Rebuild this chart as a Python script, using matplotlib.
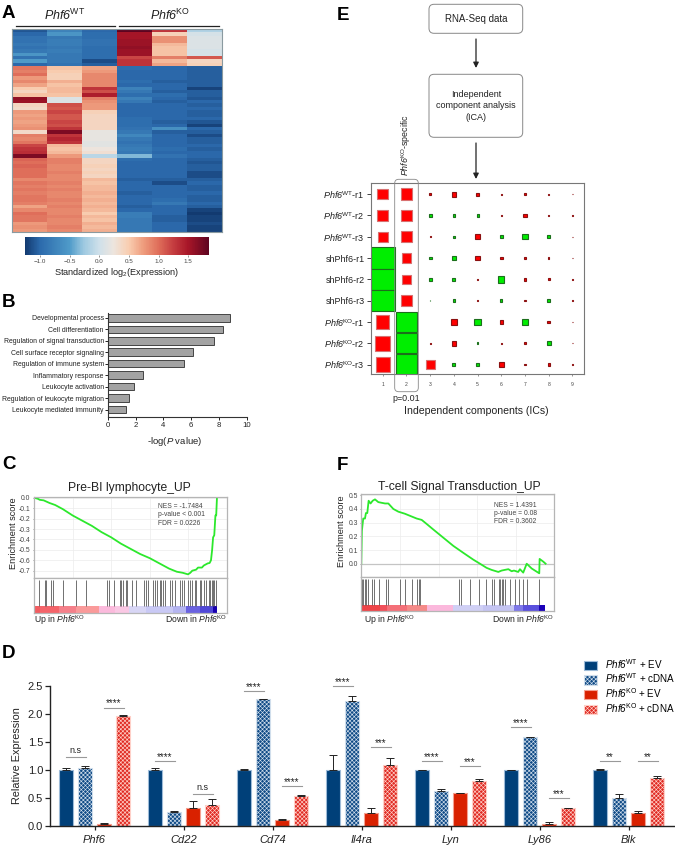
"""Multi panel figure: Phf6 heatmap, GO bars, ICA squares, GSEA curves, qPCR bars."""
import numpy as np
import matplotlib
matplotlib.use("Agg")
import matplotlib.pyplot as plt
from matplotlib.cm import ScalarMappable
from matplotlib.colors import LinearSegmentedColormap, Normalize
from matplotlib.patches import FancyBboxPatch, Patch, Rectangle

plt.rcParams["font.family"] = ["Liberation Sans", "DejaVu Sans"]
plt.rcParams["mathtext.fontset"] = "custom"
plt.rcParams["mathtext.rm"] = "Liberation Sans"
plt.rcParams["mathtext.it"] = "Liberation Sans:italic"
plt.rcParams["mathtext.sf"] = "Liberation Sans:italic"  # \mathit keeps digits upright, sf does not
plt.rcParams["hatch.linewidth"] = 0.45

W, H = 675, 846
WT = r"$\mathsf{Phf6}^{\mathrm{WT}}$"
KO = r"$\mathsf{Phf6}^{\mathrm{KO}}$"
TXT = "#222222"

# A: heatmap, top block then bottom block, one list per column
hm_wt1 = [-1.1, -1.0, -.9, -.9, -.85, -.9, -.85, -.55, -.9, -.5, -1.0,
          .95, .9, 1.0, .75, .85, .7, .5, .4, .55, 1.6, 1.55, .4, .35, .75, .7, .75, .7, .75, .8, .35, .9, .85, .95,
          1.2, 1.3, 1.35, 1.7, 1.05, 1.0, 1.05, 1.0, 1.0, 1.0, .85, .95, .9, .95, .9, .95, .95, .9, .7, .85, 1.0, .95, .95, .75, .8, .75]
hm_wt2 = [-.75, -.55, -.85, -.8, -.8, -.85, -.8, -.85, -.85, -.85, -.9,
          .55, .5, .45, .45, .65, .55, .6, .6, .55, .1, .1, 1.15, 1.1, 1.2, 1.1, 1.1, 1.2, 1.15, 1.3, 1.7, 1.3, 1.4, 1.3,
          .6, .55, .6, .75, .9, .9, .85, .85, .9, .85, .85, .9, .85, .9, .85, .85, .9, .85, .9, .85, .85, .9, .85, .85, .9, .85]
hm_wt3 = [-1.0, -.95, -.95, -.9, -.9, -.95, -.95, -.95, -.95, -1.15, -1.05,
          .7, .75, .85, .85, .85, .85, 1.3, 1.15, 1.45, .9, .8, .75, .75, .45, .4, .4, .4, .4, .4, .2, .2, .2, .15,
          .15, .25, .3, -.1, .4, .4, .45, .4, .45, .4, .6, .55, .6, .6, .65, .6, .65, .6, .65, .6, .5, .6, .55, .65, .6, .65]
hm_ko1 = [1.85, 1.5, 1.5, 1.55, 1.55, 1.6, 1.55, 1.55, 1.2, 1.3, 1.3,
          -.95, -1.0, -1.0, -1.0, -.95, -1.0, -.75, -.85, -.95, -.75, -.85, -1.0, -1.0, -1.0, -1.0, -.95, -.95, -.95, -.9, -.85, -.7, -.85, -.9,
          -.85, -.8, -.85, -.35, -.95, -1.0, -1.0, -1.0, -1.0, -1.0, -1.05, -1.0, -1.0, -1.0, -1.05, -1.0, -1.0, -1.0, -1.05, -1.0, -.8, -.8, -.85, -.85, -.85, -.85]
hm_ko2 = [1.3, .45, .8, .8, .6, .55, .55, .55, .9, .6, .7,
          -1.0, -1.0, -1.0, -1.0, -1.05, -1.0, -1.0, -1.05, -.95, -1.0, -1.05, -1.0, -1.0, -1.0, -1.0, -1.0, -1.05, -1.0, -.6, -1.05, -1.0, -1.0, -1.0,
          -1.0, -.95, -1.0, -.9, -1.0, -1.0, -1.0, -1.0, -1.0, -1.0, -1.05, -1.15, -1.0, -1.0, -1.0, -1.0, -.95, -.85, -1.0, -1.0, -1.0, -1.05, -1.05, -1.0, -1.0, -1.0]
hm_ko3 = [-.15, .05, .1, .1, .1, .1, .05, .05, 1.1, .4, .45,
          -1.05, -1.05, -1.05, -1.05, -1.05, -1.05, -1.2, -1.05, -1.05, -1.1, -1.0, -1.05, -1.0, -1.05, -1.05, -1.0, -1.1, -1.2, -1.0, -1.05, -1.15, -1.05, -1.05,
          -1.0, -1.05, -1.0, -1.0, -1.05, -1.1, -1.05, -1.05, -1.15, -1.15, -1.05, -1.0, -1.05, -1.05, -1.0, -1.05, -1.05, -1.0, -1.05, -1.2, -1.25, -1.2, -1.2, -1.15, -1.2, -1.2]
cb_stops = [-1.25, -1, -.5, -.27, 0, .24, .5, .75, 1, 1.25, 1.5, 1.85]
cb_colors = ["#123a70", "#2c6aac", "#4f9bc9", "#9cc8e0", "#cfe0ea", "#ede5de", "#f9cdb0", "#ee9b7c", "#df6e5a",
             "#c53d40", "#a81628", "#5e0420"]

# B: GO terms
go_terms = ["Developmental process", "Cell differentiation", "Regulation of signal transduction",
            "Cell surface receptor signaling", "Regulation of immune system", "Inflammatory response",
            "Leukocyte activation", "Regulation of leukocyte migration", "Leukocyte mediated immunity"]
go_values = [8.8, 8.3, 7.65, 6.15, 5.45, 2.5, 1.85, 1.55, 1.3]

# E: signed IC weights, red is positive, green negative
ic_samples = [WT + "-r1", WT + "-r2", WT + "-r3", "shPhf6-r1", "shPhf6-r2", "shPhf6-r3",
              KO + "-r1", KO + "-r2", KO + "-r3"]
ic_weights = [[.45, .5, .07, .2, .14, .03, .07, .04, .015],
              [.45, .5, -.14, -.11, -.09, .02, .13, .06, .015],
              [.41, .46, .05, -.1, .2, -.13, -.22, -.13, .015],
              [-1, .41, -.12, -.14, .2, .12, .06, .05, .015],
              [-1, .4, -.12, -.12, .07, -.27, .12, .09, .015],
              [-1, .44, -.02, -.11, .03, -.1, .06, -.15, .015],
              [.56, -.85, -.015, .25, -.28, .14, -.26, .12, .015],
              [.62, -.85, .04, .2, -.07, .04, .07, -.18, .015],
              [.6, -.85, .37, -.12, -.13, .2, .05, .1, .015]]

# C: GSEA curve, rank in % of the axis
c_rank = [0, 2, 3, 5, 8, 11, 15, 20, 25, 30, 35, 40, 45, 50, 55, 60, 65, 70, 74, 77, 79.8, 81, 82, 84, 85, 87, 88, 90,
          91, 91.7, 92.3, 92.8, 93.4, 94, 94.4, 94.8]
c_es = [0, -.01, -.02, -.025, -.05, -.07, -.11, -.17, -.22, -.27, -.33, -.38, -.44, -.49, -.54, -.58, -.63, -.68,
        -.71, -.72, -.735, -.72, -.70, -.69, -.67, -.67, -.65, -.63, -.626, -.6, -.5, -.38, -.36, -.17, -.17, 0]
c_hits = [2.8, 5.5, 6, 8.8, 10, 15.2, 21.9, 27.2, 37.9, 39, 41.6, 44.5, 45.3, 46.2, 47.6, 48.3, 51, 53.1, 57.1, 57.9,
          59.1, 61.7, 62.6, 63.8, 65.2, 66, 66.9, 67.8, 70.3, 71.6, 72.9, 75.5, 76.6, 77.6, 79.8, 80.7, 81.9, 83.3,
          84.1, 85.9, 86.7, 87.9, 89, 90.7, 91.4, 92.1, 92.8, 93.3, 94.5]
c_seg_edges = [0, 3, 13, 22, 33.6, 42, 49, 58, 72, 79, 86, 93, 94.8]
c_seg_colors = ["#f25c60", "#f4646a", "#f5808a", "#fa9a9a", "#fbbadc", "#fac8e4", "#d8d6f5", "#c9c9f5", "#b5b5f0",
                "#6a62e0", "#5048d8", "#1800b0"]

# F: GSEA curve
f_rank = [0, .3, 1, 1.9, 2.4, 3.1, 3.8, 4.8, 5.9, 7.1, 8.8, 10.5, 12.3, 14, 16.6, 19.2, 22.6, 25.2, 28.7, 31.3, 33.9,
          37.3, 42.5, 47.7, 52.8, 58, 61.5, 64.9, 67.5, 71, 72.7, 74.4, 76.2, 77.9, 79.1, 81.3, 82.2, 83.9, 85.7,
          88.3, 92.2, 92.4, 94.3, 95.5]
f_es = [0, .24, .33, .33, .37, .37, .46, .44, .46, .47, .45, .445, .44, .44, .40, .38, .365, .35, .33, .32, .29, .25,
        .19, .13, .08, .03, 0, -.03, -.045, -.06, -.05, -.045, -.04, -.055, -.05, -.06, -.04, -.065, 0, -.035, -.07,
        .035, .015, 0]
f_hits = [.2, 1, 1.9, 2.4, 3.3, 5.7, 6.5, 9.3, 12.8, 13.8, 20.3, 22.8, 26.1, 29, 29.9, 30.6, 50.6, 51.5, 56.3, 60.8,
          64.8, 67.9, 68.9, 71.4, 72, 72.7, 73.6, 74.3, 77, 79.6, 81.7, 83.9, 85.7, 92.2]
f_seg_edges = [0, 9.7, 13.1, 23.5, 33.9, 47.7, 63.2, 79, 83.9, 92.2, 95.1]
f_seg_colors = ["#ee4448", "#f0505a", "#f47078", "#f58a88", "#fbb8dc", "#d0d0f5", "#c5c5f2", "#7e78e8", "#5a50dd", "#1a00b8"]

# D: qPCR
genes = ["Phf6", "Cd22", "Cd74", "Il4ra", "Lyn", "Ly86", "Blk"]
wt_ev = [1.0, 1.0, 1.0, 1.0, 1.0, 1.0, 1.0]
wt_cdna = [1.04, .24, 2.27, 2.23, .62, 1.59, .5]
ko_ev = [.03, .32, .11, .22, .58, .03, .22]
ko_cdna = [1.96, .38, .54, 1.08, .80, .32, .85]
wt_ev_err = [.03, .04, .01, .27, .005, .005, .025]
wt_cdna_err = [.03, .02, .01, .1, .04, .005, .07]
ko_ev_err = [.02, .12, .01, .09, .01, .03, .05]
ko_cdna_err = [.02, .09, .01, .14, .03, .005, .05]
# gene index, first bar of the pair, level, label
sig_gene = [0, 0, 1, 1, 2, 2, 3, 3, 4, 4, 5, 5, 6, 6]
sig_first = [0, 2, 0, 2, 0, 2, 0, 2, 0, 2, 0, 2, 0, 2]
sig_level = [1.227, 2.116, 1.155, .563, 2.41, .712, 2.505, 1.406, 1.155, 1.07, 1.77, .49, 1.155, 1.155]
sig_label = ["n.s", "****", "****", "n.s", "****", "****", "****", "***", "****", "***", "****", "***", "**", "**"]


def box(x0, y0, x1, y1):
    # pixel rectangle of the reference -> axes position
    return [x0 / W, 1 - y1 / H, (x1 - x0) / W, (y1 - y0) / H]


fig = plt.figure(figsize=(W / 100, H / 100), dpi=100)
page = fig.add_axes([0, 0, 1, 1], zorder=5)
page.set_xlim(0, W)
page.set_ylim(H, 0)
page.axis("off")

for letter, x, y in [("A", 2, 18), ("B", 2, 307), ("C", 2, 469), ("D", 2, 658), ("E", 337, 20), ("F", 337, 470)]:
    page.text(x, y, letter, fontsize=13.5, fontweight="bold", color="black", va="baseline")

# ---- A
hm_norm = Normalize(cb_stops[0], cb_stops[-1])
hm_cmap = LinearSegmentedColormap.from_list("hm", [(float(hm_norm(v)), c) for v, c in zip(cb_stops, cb_colors)])
ax = fig.add_axes(box(12, 29, 222, 232))
hm = np.array([hm_wt1, hm_wt2, hm_wt3, hm_ko1, hm_ko2, hm_ko3]).T
ax.imshow(hm, cmap=hm_cmap, norm=hm_norm, aspect="auto", interpolation="nearest")
ax.set_xticks([])
ax.set_yticks([])
for s in ax.spines.values():
    s.set_color("#8a9aa0")
    s.set_linewidth(0.8)
page.plot([15.7, 115], [26, 26], color="#222222", lw=0.9)
page.plot([119, 219], [26, 26], color="#222222", lw=0.9)
page.text(65, 20, WT, fontsize=9, ha="center", va="baseline", color=TXT)
page.text(170, 20, KO, fontsize=9, ha="center", va="baseline", color=TXT)

cax = fig.add_axes(box(25, 237, 209, 255))
cb = fig.colorbar(ScalarMappable(hm_norm, hm_cmap), cax=cax, orientation="horizontal")
cb.set_ticks([-1, -.5, 0, .5, 1, 1.5], labels=["\u22121.0", "\u22120.5", "0.0", "0.5", "1.0", "1.5"])
cax.tick_params(labelsize=4.5, length=1.5, width=0.4, pad=1.5, colors="#444444")
cb.outline.set_visible(False)
page.text(117, 275, r"Standardized log$_2$(Expression)", fontsize=6.6, ha="center", va="baseline", color=TXT)

# ---- B
ax = fig.add_axes(box(108, 313, 246.7, 416.7))
ypos = np.arange(len(go_terms))
ax.barh(ypos, go_values, height=0.66, color="#a3a3a3", edgecolor="#444444", linewidth=0.7)
ax.set_yticks(ypos, go_terms)
ax.set_ylim(8.62, -0.42)
ax.set_xlim(0, 10)
ax.set_xticks([0, 2, 4, 6, 8, 10])
ax.tick_params(axis="y", labelsize=4.95, length=2.5, width=0.7, pad=0.5, colors=TXT)
ax.tick_params(axis="x", labelsize=5.6, length=2.5, width=0.7, pad=1.5, colors=TXT)
for s in ["top", "right"]:
    ax.spines[s].set_visible(False)
for s in ["left", "bottom"]:
    ax.spines[s].set_linewidth(0.8)
    ax.spines[s].set_color("#333333")
page.text(175, 444, r"-log($\mathit{P}$ value)", fontsize=6.8, ha="center", va="baseline", color=TXT)

# ---- E
ax = fig.add_axes(box(370.7, 183.3, 584, 374.3))
ax.set_xlim(0.49, 9.49)
ax.set_ylim(9.46, 0.49)
ic_w = np.array(ic_weights)
for r in range(ic_w.shape[0]):
    for c in range(ic_w.shape[1]):
        v = ic_w[r, c]
        side = abs(v)
        high = min(side * 1.11, 1.0)
        fc = "#ff0000" if v > 0 else "#00ee00"
        ec = "#8a1010" if v > 0 else "#1c6e1c"
        if side > 0.3 and v > 0:
            ec = "#d87070"
        ax.add_patch(Rectangle((c + 1 - side / 2, r + 1 - high / 2), side, high, facecolor=fc, edgecolor=ec, linewidth=0.8))
ax.set_xticks(range(1, 10))
ax.set_yticks(range(1, 10), ic_samples)
ax.tick_params(axis="x", labelsize=3.6, length=1.5, width=0.4, pad=4, colors="#444444")
ax.tick_params(axis="y", labelsize=6.5, length=3, width=0.6, pad=1.5, colors=TXT)
for s in ax.spines.values():
    s.set_color("#777777")
    s.set_linewidth(0.8)
page.add_patch(FancyBboxPatch((394.7, 179.3), 23.6, 212.4, boxstyle="round,pad=0,rounding_size=4", fc="none", ec="#888888", lw=0.6))
page.text(406.5, 176, KO + "-specific", fontsize=6.4, rotation=90, ha="center", va="bottom", color=TXT)
page.text(406.7, 401, "p=0.01", fontsize=6.4, ha="center", va="baseline", color=TXT)
page.text(476, 414, "Independent components (ICs)", fontsize=7.6, ha="center", va="baseline", color=TXT)

# flow chart
page.add_patch(FancyBboxPatch((429, 4.3), 93.7, 29, boxstyle="round,pad=0,rounding_size=5", fc="white", ec="#888888", lw=0.7))
page.add_patch(FancyBboxPatch((429, 74.3), 93.7, 63, boxstyle="round,pad=0,rounding_size=5", fc="white", ec="#888888", lw=0.7))
page.text(476, 19.5, "RNA-Seq data", fontsize=7, ha="center", va="center", color=TXT)
page.text(476, 106, "Independent\ncomponent analysis\n(ICA)", fontsize=6.5, ha="center", va="center", color=TXT, linespacing=1.35)
for y0, y1 in [(39, 68), (143, 179)]:
    page.annotate("", xy=(476, y1), xytext=(476, y0), arrowprops=dict(arrowstyle="-|>", color="#222222", lw=0.9, mutation_scale=8, shrinkA=0, shrinkB=0))


# ---- C and F
def gsea(x0, x1, y_top, y_div, y_bot, es_lim, yticks, rank, es, hits, edges, colors):
    top = fig.add_axes(box(x0, y_top, x1, y_div))
    top.set_xlim(0, 100)
    top.set_ylim(*es_lim)
    top.set_xticks([20, 40, 60, 80], [])
    top.set_yticks(yticks)
    top.set_yticklabels([f"{t:.1f}" for t in yticks])
    top.grid(color="#ececec", lw=0.5)
    top.set_axisbelow(True)
    top.tick_params(axis="x", length=0)
    top.tick_params(axis="y", labelsize=4.9, length=1, width=0.4, pad=1.5, colors="#444444")
    top.plot(rank, es, color="#2ce82c", lw=1.3, solid_joinstyle="round")
    low = fig.add_axes(box(x0, y_div, x1, y_bot))
    low.set_xlim(0, 100)
    low.set_ylim(0, 1)
    low.set_xticks([])
    low.set_yticks([])
    frac = (y_bot - y_div)
    bar_h = 6.8 / frac
    low.vlines(hits, bar_h, 1 - 1.7 / frac, color="#5a5a5a", lw=0.6)
    low.barh(bar_h / 2, np.diff(edges), left=edges[:-1], height=bar_h, color=colors)
    for a in (top, low):
        for s in a.spines.values():
            s.set_color("#b5b5b5")
            s.set_linewidth(0.9)
    return top


gsea(34, 227, 496.7, 578.3, 612.7, (-.773, .01), [0, -.1, -.2, -.3, -.4, -.5, -.6, -.7], c_rank, c_es, c_hits, c_seg_edges, c_seg_colors)
ftop = gsea(361.3, 554.3, 494.3, 577, 611.3, (-.097, .507), [0, .1, .2, .3, .4, .5], f_rank, f_es, f_hits, f_seg_edges, f_seg_colors)
ftop.axhline(0, color="#c4c4c4", lw=0.9, zorder=1)

page.text(129, 491, "Pre-BI lymphocyte_UP", fontsize=8.7, ha="center", va="baseline", color=TXT)
page.text(459, 490, "T-cell Signal Transduction_UP", fontsize=8.7, ha="center", va="baseline", color=TXT)
page.text(13.5, 533, "Enrichment score", fontsize=6.6, rotation=90, ha="center", va="center", color=TXT)
page.text(342, 531, "Enrichment score", fontsize=6.6, rotation=90, ha="center", va="center", color=TXT)
page.text(158.5, 515, "NES = -1.7484\np-value < 0.001\nFDR = 0.0226", fontsize=4.9, va="center", color="#444444", linespacing=1.25)
page.text(494, 513.5, "NES = 1.4391\np-value = 0.08\nFDR = 0.3602", fontsize=4.9, va="center", color="#444444", linespacing=1.25)
for left, right in [(34.5, 227), (364, 553.5)]:
    page.text(left, 623, r"Up in " + KO, fontsize=6.2, ha="left", va="baseline", color=TXT)
    page.text(right, 623, r"Down in " + KO, fontsize=6.2, ha="right", va="baseline", color=TXT)

# ---- D
ax = fig.add_axes(box(50, 686.3, 674, 825.7))
ax.set_xlim(0, 624)
ax.set_ylim(0, 2.5)
group_x = 44.5 + 89 * np.arange(len(genes))
offsets = [-28.5, -9.5, 9.5, 28.5]
series = [(wt_ev, wt_ev_err, "#004079", "#9dbbd8", None, WT + " + EV"),
          (wt_cdna, wt_cdna_err, "#0f4a86", "#d0deec", "xxxxxxxx", WT + " + cDNA"),
          (ko_ev, ko_ev_err, "#d92100", "#f5a090", None, KO + " + EV"),
          (ko_cdna, ko_cdna_err, "#e02a22", "#ffd0c8", "xxxxxxxx", KO + " + cDNA")]
handles = []
for off, (vals, errs, fc, ec, hatch, lab) in zip(offsets, series):
    ax.bar(group_x + off, vals, 13.3, color=fc, edgecolor=ec, hatch=hatch, linewidth=0.8,
           yerr=(np.zeros(len(vals)), errs), ecolor="#222222",
           error_kw=dict(elinewidth=0.7, capsize=2.6, capthick=0.7))
    handles.append(Patch(facecolor=fc, edgecolor=ec, hatch=hatch, linewidth=0.8, label=lab))
for g, first, lev, lab in zip(sig_gene, sig_first, sig_level, sig_label):
    left = group_x[g] + offsets[first]
    right = group_x[g] + offsets[first + 1]
    ax.plot([left, right + 1], [lev, lev], color="#999999", lw=0.8, clip_on=False)
    if "*" in lab:
        ax.text((left + right) / 2, lev - 0.015, lab, fontsize=7, ha="center", va="bottom", color=TXT, clip_on=False)
    else:
        ax.text((left + right) / 2, lev + 0.04, lab, fontsize=6.5, ha="center", va="bottom", color=TXT, clip_on=False)
ax.set_xticks(group_x, genes, fontstyle="italic")
ax.set_yticks([0, .5, 1, 1.5, 2, 2.5])
ax.set_yticklabels(["0.0", "0.5", "1.0", "1.5", "2.0", "2.5"])
ax.tick_params(axis="x", labelsize=8, length=3, width=0.9, pad=3.5, colors=TXT)
ax.tick_params(axis="y", labelsize=8, length=3.5, width=0.9, pad=1.5, colors=TXT)
for s in ["top", "right"]:
    ax.spines[s].set_visible(False)
for s in ["left", "bottom"]:
    ax.spines[s].set_linewidth(1.0)
    ax.spines[s].set_color("#222222")
ax.set_ylabel("Relative Expression", fontsize=7.8, color=TXT, labelpad=4)
ax.legend(handles=handles, loc="upper left", bbox_to_anchor=(0.856, 1.21), frameon=False, fontsize=7.1,
          handlelength=1.35, handleheight=1.05, handletextpad=0.75, labelspacing=0.08, borderaxespad=0, borderpad=0)

fig.savefig("out.png", dpi=100)
print("saved out.png")
